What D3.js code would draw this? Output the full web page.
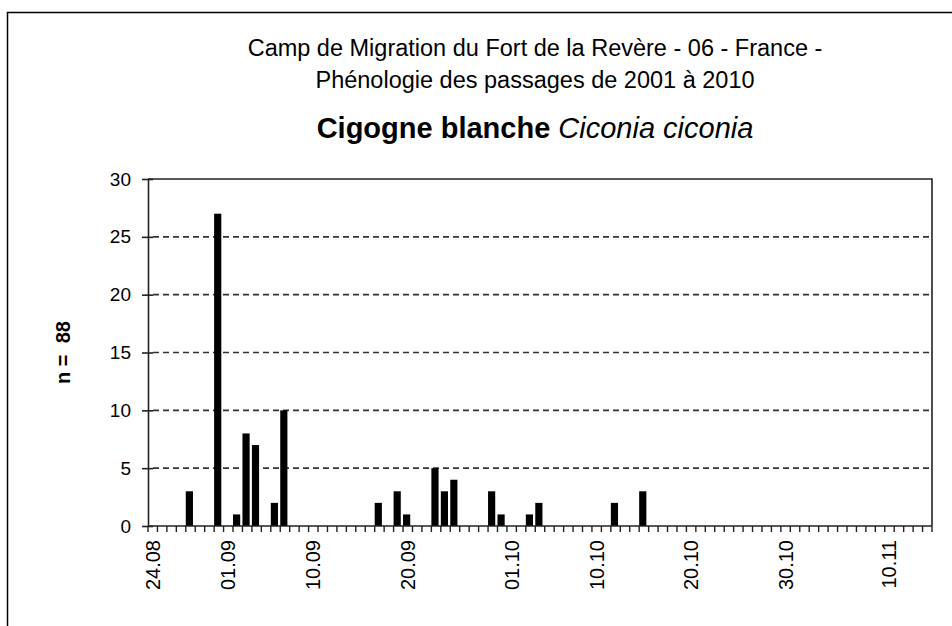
<!DOCTYPE html>
<html>
<head>
<meta charset="utf-8">
<script src="https://cdn.jsdelivr.net/npm/d3@7"></script>
<style>
  body { margin: 0; background: #fff; }
  text { font-family: "Liberation Sans", Arial, sans-serif; fill: #000; }
</style>
</head>
<body>
<svg width="952" height="626"></svg>
<script>
// one category per day, 24.08 -> 14.11
var days = [];
var start = new Date(2001, 7, 24);
for (var i = 0; i < 83; i++) {
  days.push(d3.timeFormat("%d.%m")(d3.timeDay.offset(start, i)));
}

// days with passages and birds counted (2001-2010)
var passDays = ["28.08", "31.08", "02.09", "03.09", "04.09", "06.09", "07.09",
  "17.09", "19.09", "20.09", "23.09", "24.09", "25.09",
  "29.09", "30.09", "03.10", "04.10", "12.10", "15.10"];
var passCounts = [3, 27, 1, 8, 7, 2, 10,
  2, 3, 1, 5, 3, 4,
  3, 1, 1, 2, 2, 3];

var tickLabels = ["24.08", "01.09", "10.09", "20.09", "01.10", "10.10", "20.10", "30.10", "10.11"];
var yTicks = [0, 5, 10, 15, 20, 25, 30];

var svg = d3.select("svg");

var pLeft = 148, pRight = 932, pTop = 179, pBottom = 526;

// outer chart border (cut by the picture on the right and bottom)
svg.append("rect")
  .attr("x", 7.5).attr("y", 12.5)
  .attr("width", 1000).attr("height", 700)
  .attr("fill", "none").attr("stroke", "#000").attr("stroke-width", 1.5);

var x = d3.scaleBand().domain(days).range([pLeft, pRight]).padding(0);
var y = d3.scaleLinear().domain([0, 30]).range([pBottom, pTop]);

// titles
svg.append("text").attr("x", 535).attr("y", 56).attr("text-anchor", "middle")
  .style("font-size", "23.5px").text("Camp de Migration du Fort de la Revère - 06 - France -");
svg.append("text").attr("x", 535).attr("y", 88).attr("text-anchor", "middle")
  .style("font-size", "23.5px").text("Phénologie des passages de 2001 à 2010");
var t3 = svg.append("text").attr("x", 535).attr("y", 138).attr("text-anchor", "middle")
  .style("font-size", "29px");
t3.append("tspan").style("font-weight", "bold").text("Cigogne blanche ");
t3.append("tspan").style("font-style", "italic").text("Ciconia ciconia");

// gridlines
svg.append("g").selectAll("line")
  .data(yTicks.filter(function(d) { return d > 0 && d < 30; }))
  .enter().append("line")
  .attr("x1", pLeft + 5).attr("x2", pRight)
  .attr("y1", function(d) { return y(d); })
  .attr("y2", function(d) { return y(d); })
  .attr("stroke", "#333").attr("stroke-width", 1.6)
  .attr("stroke-dasharray", "6,4");

// bars
var data = passDays.map(function(d, i) { return { day: d, value: passCounts[i] }; });
svg.append("g").selectAll("rect")
  .data(data)
  .enter().append("rect")
  .attr("x", function(d) { return x(d.day); })
  .attr("width", x.bandwidth() * 0.76)
  .attr("y", function(d) { return y(d.value); })
  .attr("height", function(d) { return y(0) - y(d.value); })
  .attr("fill", "#000");

// plot frame top and right
svg.append("path")
  .attr("d", "M" + pLeft + "," + pTop + "H" + pRight + "V" + pBottom)
  .attr("fill", "none").attr("stroke", "#222").attr("stroke-width", 1.6);

// y axis
var yAxis = svg.append("g")
  .attr("transform", "translate(" + pLeft + ",0)")
  .call(d3.axisLeft(y).tickValues(yTicks).tickSize(6).tickPadding(11).tickSizeOuter(0));
yAxis.select(".domain").attr("stroke", "#222").attr("stroke-width", 1.6);
yAxis.selectAll(".tick line").attr("stroke", "#222").attr("stroke-width", 1.6).attr("x2", -6).attr("x1", 5);
yAxis.selectAll(".tick text").style("font-size", "19px").attr("fill", "#000").attr("font-family", null);

// x axis: a tick at every day boundary
var bounds = days.map(function(d) { return x(d); }).concat([pRight]);
svg.append("g").selectAll("line")
  .data(bounds)
  .enter().append("line")
  .attr("x1", function(d) { return d; }).attr("x2", function(d) { return d; })
  .attr("y1", pBottom).attr("y2", pBottom + 6)
  .attr("stroke", "#222").attr("stroke-width", 1.4);
svg.append("line")
  .attr("x1", pLeft).attr("x2", pRight)
  .attr("y1", pBottom).attr("y2", pBottom)
  .attr("stroke", "#222").attr("stroke-width", 1.6);

svg.append("g").selectAll("text")
  .data(tickLabels)
  .enter().append("text")
  .attr("transform", function(d) {
    return "translate(" + (x(d) + x.bandwidth() / 2 + 7) + "," + (pBottom + 14) + ") rotate(-90)";
  })
  .attr("text-anchor", "end")
  .style("font-size", "20px")
  .text(function(d) { return d; });

// y title
svg.append("text")
  .attr("transform", "translate(70," + ((pTop + pBottom) / 2) + ") rotate(-90)")
  .attr("text-anchor", "middle")
  .style("font-size", "20px").style("font-weight", "bold")
  .style("white-space", "pre")
  .text("n =  88");
</script>
</body>
</html>
